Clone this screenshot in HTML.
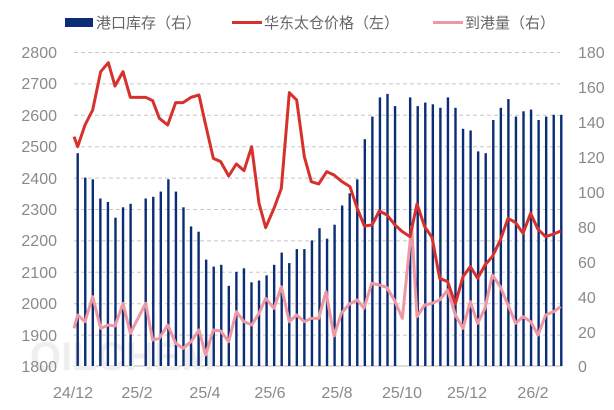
<!DOCTYPE html>
<html><head><meta charset="utf-8"><style>
body{margin:0;background:#fff;width:614px;height:405px;overflow:hidden}
svg text{font-family:"Liberation Sans","Noto Sans CJK SC",sans-serif}
</style></head><body>
<svg width="614" height="405" viewBox="0 0 614 405" xmlns="http://www.w3.org/2000/svg">
<g stroke="#c8c8c8" stroke-dasharray="4,3" stroke-width="1">
<line x1="74" x2="560" y1="52.5" y2="52.5"/><line x1="74" x2="560" y1="83.9" y2="83.9"/><line x1="74" x2="560" y1="115.3" y2="115.3"/><line x1="74" x2="560" y1="146.7" y2="146.7"/><line x1="74" x2="560" y1="178.1" y2="178.1"/><line x1="74" x2="560" y1="209.5" y2="209.5"/><line x1="74" x2="560" y1="240.9" y2="240.9"/><line x1="74" x2="560" y1="272.3" y2="272.3"/><line x1="74" x2="560" y1="303.7" y2="303.7"/><line x1="74" x2="560" y1="335.1" y2="335.1"/>
</g>
<line x1="74" x2="562" y1="366" y2="366" stroke="#bbb"/>
<text x="30" y="370" font-size="40" fill="#efefef" font-weight="bold">OILCHEM</text>
<g fill="#8a8a8a" font-size="16" text-anchor="end">
<text x="57" y="58">2800</text><text x="57" y="89">2700</text><text x="57" y="121">2600</text><text x="57" y="152">2500</text><text x="57" y="184">2400</text><text x="57" y="215">2300</text><text x="57" y="246">2200</text><text x="57" y="278">2100</text><text x="57" y="309">2000</text><text x="57" y="341">1900</text><text x="57" y="372">1800</text>
</g>
<g fill="#8a8a8a" font-size="16">
<text x="578" y="58">180</text><text x="578" y="93">160</text><text x="578" y="128">140</text><text x="578" y="163">120</text><text x="578" y="198">100</text><text x="578" y="233">80</text><text x="578" y="268">60</text><text x="578" y="303">40</text><text x="578" y="338">20</text><text x="578" y="372">0</text>
</g>
<g fill="#8a8a8a" font-size="16" text-anchor="middle">
<text x="73" y="398">24/12</text><text x="137" y="398">25/2</text><text x="205" y="398">25/4</text><text x="270" y="398">25/6</text><text x="337" y="398">25/8</text><text x="402" y="398">25/10</text><text x="467" y="398">25/12</text><text x="533" y="398">26/2</text>
</g>
<g fill="#0b2d75">
<rect x="76.5" y="153.2" width="2.4" height="212.8"/>
<rect x="84.06" y="177.6" width="2.4" height="188.4"/>
<rect x="91.61" y="179.3" width="2.4" height="186.7"/>
<rect x="99.17" y="198.5" width="2.4" height="167.5"/>
<rect x="106.72" y="202.0" width="2.4" height="164"/>
<rect x="114.28" y="217.7" width="2.4" height="148.3"/>
<rect x="121.84" y="207.3" width="2.4" height="158.7"/>
<rect x="129.39" y="203.8" width="2.4" height="162.2"/>
<rect x="144.50" y="198.5" width="2.4" height="167.5"/>
<rect x="152.06" y="196.8" width="2.4" height="169.2"/>
<rect x="159.61" y="191.6" width="2.4" height="174.4"/>
<rect x="167.17" y="179.3" width="2.4" height="186.7"/>
<rect x="174.73" y="191.6" width="2.4" height="174.4"/>
<rect x="182.28" y="207.3" width="2.4" height="158.7"/>
<rect x="189.84" y="226.4" width="2.4" height="139.6"/>
<rect x="197.40" y="231.7" width="2.4" height="134.3"/>
<rect x="204.95" y="259.6" width="2.4" height="106.4"/>
<rect x="212.51" y="266.6" width="2.4" height="99.4"/>
<rect x="220.06" y="264.8" width="2.4" height="101.2"/>
<rect x="227.62" y="285.8" width="2.4" height="80.2"/>
<rect x="235.18" y="271.8" width="2.4" height="94.2"/>
<rect x="242.73" y="268.3" width="2.4" height="97.7"/>
<rect x="250.29" y="282.3" width="2.4" height="83.7"/>
<rect x="257.84" y="280.5" width="2.4" height="85.5"/>
<rect x="265.40" y="275.3" width="2.4" height="90.7"/>
<rect x="272.96" y="264.8" width="2.4" height="101.2"/>
<rect x="280.51" y="252.6" width="2.4" height="113.4"/>
<rect x="288.07" y="263.1" width="2.4" height="102.9"/>
<rect x="295.62" y="249.1" width="2.4" height="116.9"/>
<rect x="303.18" y="249.1" width="2.4" height="116.9"/>
<rect x="310.74" y="240.4" width="2.4" height="125.6"/>
<rect x="318.29" y="228.2" width="2.4" height="137.8"/>
<rect x="325.85" y="238.7" width="2.4" height="127.3"/>
<rect x="333.40" y="224.7" width="2.4" height="141.3"/>
<rect x="340.96" y="205.5" width="2.4" height="160.5"/>
<rect x="348.52" y="193.3" width="2.4" height="172.7"/>
<rect x="356.07" y="179.3" width="2.4" height="186.7"/>
<rect x="363.63" y="139.2" width="2.4" height="226.8"/>
<rect x="371.18" y="116.6" width="2.4" height="249.4"/>
<rect x="378.74" y="97.4" width="2.4" height="268.6"/>
<rect x="386.30" y="93.9" width="2.4" height="272.1"/>
<rect x="393.85" y="106.1" width="2.4" height="259.9"/>
<rect x="408.96" y="97.4" width="2.4" height="268.6"/>
<rect x="416.52" y="106.1" width="2.4" height="259.9"/>
<rect x="424.08" y="102.6" width="2.4" height="263.4"/>
<rect x="431.63" y="104.3" width="2.4" height="261.7"/>
<rect x="439.19" y="107.8" width="2.4" height="258.2"/>
<rect x="446.74" y="97.4" width="2.4" height="268.6"/>
<rect x="454.30" y="107.8" width="2.4" height="258.2"/>
<rect x="461.86" y="128.8" width="2.4" height="237.2"/>
<rect x="469.41" y="130.5" width="2.4" height="235.5"/>
<rect x="476.97" y="151.4" width="2.4" height="214.6"/>
<rect x="484.52" y="153.2" width="2.4" height="212.8"/>
<rect x="492.08" y="120.0" width="2.4" height="246"/>
<rect x="499.64" y="107.8" width="2.4" height="258.2"/>
<rect x="507.19" y="99.1" width="2.4" height="266.9"/>
<rect x="514.75" y="116.6" width="2.4" height="249.4"/>
<rect x="522.30" y="111.3" width="2.4" height="254.7"/>
<rect x="529.86" y="109.6" width="2.4" height="256.4"/>
<rect x="537.42" y="120.0" width="2.4" height="246"/>
<rect x="544.97" y="116.6" width="2.4" height="249.4"/>
<rect x="552.53" y="114.8" width="2.4" height="251.2"/>
<rect x="560.08" y="114.8" width="2.4" height="251.2"/>
</g>
<g transform="scale(0.33333)" fill="none" stroke-linejoin="round">
<polyline stroke="#ef97a3" stroke-width="9" points="222,985 233,945 255,965 278,890 302,985 325,975 345,978 369,910 391,1000 437,910 458,1020 478,1015 503,975 527,1030 549,1045 573,1025 597,990 617,1065 640,990 662,993 686,1025 709,935 732,965 755,975 777,940 797,895 822,925 844,860 868,965 890,945 913,965 934,955 956,955 978,875 1002,1008 1024,940 1048,912 1072,900 1092,925 1115,850 1138,855 1160,862 1183,900 1207,955 1235,680 1251,950 1274,915 1296,910 1319,900 1343,870 1366,945 1389,985 1411,905 1433,970 1455,925 1477,825 1501,860 1524,915 1547,970 1569,950 1592,965 1614,1005 1637,945 1661,935 1682,920"/>
<polyline stroke="#d7312d" stroke-width="9" points="222,410 233,440 255,375 278,330 302,215 325,188 345,258 369,215 391,292 437,292 458,302 478,355 503,375 527,308 549,308 573,292 597,285 617,375 640,475 662,485 686,528 709,492 732,512 755,440 777,610 797,683 822,625 844,565 868,278 890,300 913,470 934,545 956,552 980,515 1002,525 1026,545 1050,560 1070,620 1093,678 1116,675 1138,633 1161,645 1185,675 1207,695 1230,710 1251,612 1274,680 1296,712 1319,835 1343,845 1366,912 1389,830 1411,800 1433,835 1455,795 1477,770 1501,720 1524,655 1547,668 1569,700 1592,640 1614,688 1637,710 1661,702 1682,693"/>
</g>
<rect x="65" y="18" width="28" height="9" fill="#0b2d75"/>
<line x1="232" x2="262" y1="22.5" y2="22.5" stroke="#d7312d" stroke-width="3"/>
<line x1="433" x2="463" y1="22.5" y2="22.5" stroke="#ef97a3" stroke-width="3"/>
<g fill="#666" font-size="15">
<text x="96" y="28">港口库存（右）</text><text x="264" y="28">华东太仓价格（左）</text><text x="465" y="28">到港量（右）</text>
</g>
</svg>
</body></html>
